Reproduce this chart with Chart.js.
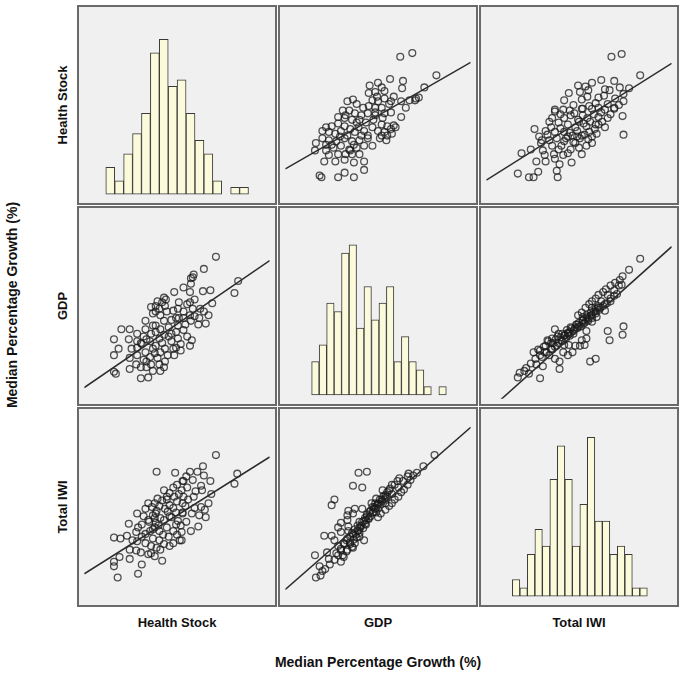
<!DOCTYPE html>
<html>
<head>
<meta charset="utf-8">
<script src="https://cdn.jsdelivr.net/npm/chart.js@4.4.0/dist/chart.umd.min.js"></script>
<style>
body { margin: 0; background: #fff; width: 685px; height: 677px; position: relative; overflow: hidden;
       font-family: "Liberation Sans", Arial, sans-serif; }
.cell { position: absolute; width: 200px; height: 200px; box-sizing: border-box; border: 2px solid #6a6a6a; background: #f0f0f0; }
.cell canvas { display: block; }
.lab { position: absolute; font-weight: bold; font-size: 13px; color: #111; white-space: nowrap; transform: translate(-50%, -50%); }
.title { font-size: 14px; }
.rot { transform: translate(-50%, -50%) rotate(-90deg); }
</style>
</head>
<body>
<script>
const varNames = ['Health Stock', 'GDP', 'Total IWI'];
const axisTitle = 'Median Percentage Growth (%)';

// histogram bins (bin centres) and counts
const healthBins = [31.9, 41.0, 50.1, 59.2, 68.3, 77.4, 86.5, 95.6, 104.7, 113.8, 122.9, 132.0, 141.1, 150.2, 159.3, 168.4];
const healthCounts = [4, 2, 6, 9, 12, 21, 23, 16, 17, 12, 8, 6, 2, 0, 1, 1];
const gdpBins = [36.1, 43.8, 51.4, 59.0, 66.6, 74.3, 81.9, 89.5, 97.2, 104.8, 112.4, 120.1, 127.7, 135.3, 143.0, 150.6, 158.2, 165.9];
const gdpCounts = [4, 6, 11, 10, 17, 18, 8, 13, 9, 11, 13, 4, 7, 4, 3, 1, 0, 1];
const iwiBins = [35.8, 43.5, 51.1, 58.8, 66.4, 74.1, 81.7, 89.4, 97.0, 104.7, 112.3, 120.0, 127.6, 135.3, 142.9, 150.6, 158.2, 165.9];
const iwiCounts = [2, 1, 5, 8, 6, 14, 18, 14, 6, 11, 19, 9, 9, 5, 6, 5, 1, 1];

// GDP (x) vs Health Stock (y)
const gdpHealthX = [124,137,163,113,127,126,150,91,100,104,90,97,107,117,141,134,125,114,107,99,94,67,73,77,84,90,97,104,112,130,140,144,62,69,75,82,89,97,107,114,125,57,64,72,80,87,95,104,110,117,44,50,57,64,70,79,85,40,47,54,60,67,75,82,89,100,107,114,119,104,110,115,33,40,47,55,64,72,80,89,102,109,32,44,52,60,69,77,85,94,57,65,72,47,42,54,64,74,85,74,37,39,57,64,74,85,70,50,59,44,80,97,105,100,94,77,65];
const gdpHealthY = [162,166,142,138,136,128,129,131,134,129,123,124,125,119,117,115,114,114,117,119,115,114,116,111,107,109,107,107,111,107,115,118,104,104,101,99,101,99,101,102,97,97,96,94,94,91,94,89,87,88,86,87,90,87,84,86,82,82,81,79,82,77,81,77,77,82,81,84,86,77,77,79,69,74,72,71,74,71,72,74,74,72,61,61,64,66,62,64,66,66,57,57,57,56,49,49,51,48,49,67,34,32,32,37,32,40,61,67,76,67,57,102,96,114,86,91,99];

// Total IWI (x) vs Health Stock (y)
const iwiHealthX = [135,146,166,124,138,114,107,99,128,144,154,101,109,127,118,84,103,139,148,131,111,121,74,103,138,148,74,83,104,114,128,138,147,91,99,109,121,131,68,78,88,96,108,118,128,52,64,74,84,93,103,111,119,148,57,68,76,84,101,110,59,71,81,91,108,38,48,61,73,83,103,54,64,74,92,34,46,51,56,76,77,79,63,96,88,71,84,98,114,104,121,80,90,95,100,105,112,116,124,70,80,90,98,106,114,66,86,94,100,78,88,60,117,125,134,143,94,89,110,121,133];
const iwiHealthY = [162,165,142,137,136,134,130,131,127,129,128,124,119,120,112,115,116,117,122,111,109,107,105,106,107,114,103,105,106,106,105,106,98,99,94,96,97,96,92,91,89,86,87,89,86,84,82,81,81,77,77,81,79,78,76,72,74,71,74,73,69,66,66,62,66,58,62,61,57,56,57,49,49,52,48,36,32,32,38,39,32,46,56,69,76,96,96,82,69,99,89,100,104,101,92,90,92,100,102,86,85,80,76,78,76,78,74,70,64,62,58,72,84,92,100,110,110,123,126,118,126];

// Total IWI (x) vs GDP (y)
const iwiGdpX = [166,154,147,144,139,134,129,126,121,118,114,111,107,103,99,131,138,143,124,121,118,113,108,128,134,146,141,128,114,104,148,147,131,133,118,112,108,108,106,101,96,89,91,98,104,109,114,74,66,88,81,76,71,63,58,53,48,56,51,79,79,36,34,58,41,46,61,68,74,83,88,93,84,71,103,94,114,119,78,64,54,43,70,75,80,85,90,95,100,105,110,62,58,67,77,87,97,113,118,123,92,82,60,65,70,74,78,82,86,90,94,98,102,106,110,114,118,122,126,130,134,138,84,96,100,108,116,72,88,104,112,120];
const iwiGdpY = [161,149,142,138,135,132,128,125,122,118,115,112,108,103,100,122,127,132,115,110,107,103,100,105,115,133,123,112,108,98,88,79,83,73,53,50,83,75,68,67,67,68,87,90,95,98,97,85,73,80,73,67,63,60,57,53,48,63,60,50,42,38,33,32,40,37,45,57,53,60,57,60,68,75,73,80,93,98,80,67,47,43,70,74,76,79,82,85,88,91,94,66,62,72,77,84,90,100,104,108,86,80,55,60,64,66,70,72,75,78,83,86,88,92,96,100,102,106,110,113,118,121,78,87,92,96,104,70,81,94,99,108];

// fitted lines, [x, y] at the two panel edges
const fitGdpHealth = [[0, 41], [200, 156]];
const fitIwiHealth = [[0, 29], [200, 155]];
const fitIwiGdp = [[0, -5], [200, 174]];
const fitHealthGdp = [[0, 22], [200, 159]];
const fitHealthIwi = [[0, 38], [200, 164]];
const fitGdpIwi = [[0, 21], [200, 196]];

const colLeft = [77, 278, 479];
const rowTop = [5, 206, 407];

function pairs(xs, ys) {
    return xs.map((v, i) => ({ x: v, y: ys[i] }));
}

function makeCell(r, c) {
    const div = document.createElement('div');
    div.className = 'cell';
    div.style.left = colLeft[c] + 'px';
    div.style.top = rowTop[r] + 'px';
    const cv = document.createElement('canvas');
    cv.width = 196;
    cv.height = 196;
    div.appendChild(cv);
    document.body.appendChild(div);
    return cv.getContext('2d');
}

const baseOpts = (ymin, ymax) => ({
    responsive: false,
    animation: false,
    layout: { padding: 0 },
    plugins: { legend: { display: false }, tooltip: { enabled: false } },
    scales: {
        x: { type: 'linear', min: 0, max: 200, offset: false, display: false },
        y: { type: 'linear', min: ymin, max: ymax, display: false }
    }
});

function histogram(r, c, bins, counts, ymin, ymax) {
    new Chart(makeCell(r, c), {
        type: 'bar',
        data: {
            datasets: [{
                data: pairs(bins, counts),
                backgroundColor: '#fbfbdc',
                borderColor: '#3a3a3a',
                borderWidth: 1,
                borderSkipped: false,
                barPercentage: 1,
                categoryPercentage: 1
            }]
        },
        options: baseOpts(ymin, ymax)
    });
}

function scatter(r, c, xs, ys, fit) {
    new Chart(makeCell(r, c), {
        type: 'scatter',
        data: {
            datasets: [{
                type: 'line',
                data: fit.map(p => ({ x: p[0], y: p[1] })),
                borderColor: '#2b2b2b',
                borderWidth: 1.5,
                pointRadius: 0
            }, {
                data: pairs(xs, ys),
                pointRadius: 3.4,
                pointBorderWidth: 1.3,
                borderColor: 'rgba(25,25,25,0.75)',
                backgroundColor: 'rgba(0,0,0,0)'
            }]
        },
        options: baseOpts(10, 210)
    });
}

histogram(0, 0, healthBins, healthCounts, -1.31, 27.8);
scatter(0, 1, gdpHealthX, gdpHealthY, fitGdpHealth);
scatter(0, 2, iwiHealthX, iwiHealthY, fitIwiHealth);
scatter(1, 0, gdpHealthY, gdpHealthX, fitHealthGdp);
histogram(1, 1, gdpBins, gdpCounts, -1.08, 22.4);
scatter(1, 2, iwiGdpX, iwiGdpY, fitIwiGdp);
scatter(2, 0, iwiHealthY, iwiHealthX, fitHealthIwi);
scatter(2, 1, iwiGdpY, iwiGdpX, fitGdpIwi);
histogram(2, 2, iwiBins, iwiCounts, -1.05, 22.4);

function label(text, x, y, cls) {
    const d = document.createElement('div');
    d.className = 'lab ' + (cls || '');
    d.textContent = text;
    d.style.left = x + 'px';
    d.style.top = y + 'px';
    document.body.appendChild(d);
}

varNames.forEach((n, i) => {
    label(n, 62, rowTop[i] + 100, 'rot');
    label(n, colLeft[i] + 100, 622);
});
label(axisTitle, 378, 662, 'title');
label(axisTitle, 12, 305, 'title rot');
</script>
</body>
</html>
